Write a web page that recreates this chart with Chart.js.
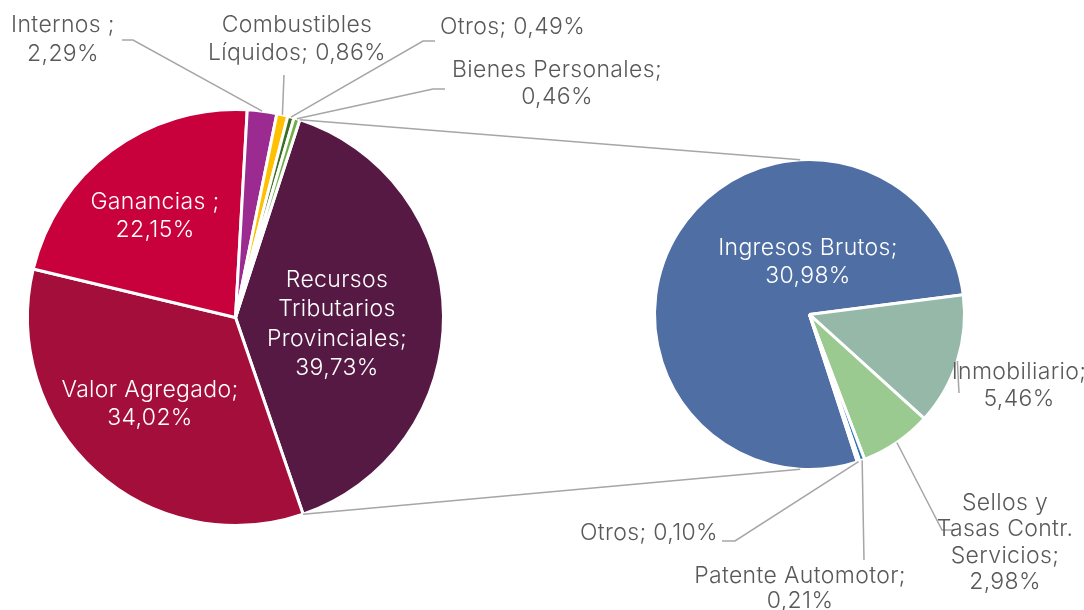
<!DOCTYPE html>
<html lang="es">
<head>
<meta charset="utf-8">
<title>Recursos tributarios</title>
<script src="https://cdn.jsdelivr.net/npm/chart.js@4.4.1/dist/chart.umd.min.js"></script>
<style>
    html, body { margin: 0; padding: 0; background: #ffffff; }
    .stage { position: relative; width: 1084px; height: 610px; }
    .stage canvas { position: absolute; left: 0; top: 0; }
</style>
</head>
<body>
<div class="stage">
    <canvas id="mainPie" width="1084" height="610"></canvas>
    <canvas id="detailPie" width="1084" height="610"></canvas>
</div>
<script>
// main pie, drawn clockwise starting with the slice that is broken out
const mainLabels = ["Recursos Tributarios Provinciales", "Valor Agregado", "Ganancias", "Internos", "Combustibles Líquidos", "Otros", "Bienes Personales"];
const mainValues = [39.73, 34.02, 22.15, 2.29, 0.86, 0.49, 0.46];
const mainColors = ["#561943", "#A30E3B", "#C8003B", "#9B2A91", "#FFC000", "#3B6E22", "#70AD47"];

// secondary pie: breakdown of Recursos Tributarios Provinciales
const detailLabels = ["Ingresos Brutos", "Inmobiliario", "Sellos y Tasas Contr. Servicios", "Patente Automotor", "Otros"];
const detailValues = [30.98, 5.46, 2.98, 0.21, 0.10];
const detailColors = ["#4F6EA4", "#96B8A9", "#9ACA8F", "#2E75B6", "#1F4E79"];

const TEXT_DARK = "#595959";
const LEADER = "#A6A6A6";
const FONT = "300 23px Inter, 'Noto Sans', sans-serif";

const fmt = (v) => v.toFixed(2).replace(".", ",") + "%";

// label text and placement ({v} is replaced by the slice value)
const mainLabelLayout = [
    { lines: ["Recursos", "Tributarios", "Provinciales;", "{v}"], x: 337, y: 280, color: "#fff", lh: 29.3 },
    { lines: ["Valor Agregado;", "{v}"], x: 150, y: 390, color: "#fff" },
    { lines: ["Ganancias ;", "{v}"], x: 155, y: 202, color: "#fff" },
    { lines: ["Internos ;", "{v}"], x: 63, y: 25, lh: 29, path: [[133, 40], [122, 40]] },
    { lines: ["Combustibles", "Líquidos; {v}"], x: 297, y: 25, path: [[284, 75]] },
    { lines: ["Otros; {v}"], x: 440, y: 27, align: "left", path: [[423, 41], [435, 41]] },
    { lines: ["Bienes Personales;", "{v}"], x: 557, y: 70, lh: 27, path: [[433, 89], [445, 89]] },
];

const detailLabelLayout = [
    { lines: ["Ingresos Brutos;", "{v}"], x: 808, y: 248, color: "#fff" },
    { lines: ["Inmobiliario;", "{v}"], x: 1019, y: 372, lh: 27, path: [[959, 393]] },
    { lines: ["Sellos y", "Tasas Contr.", "Servicios;", "{v}"], x: 1005, y: 503, lh: 26.4, path: [[942, 530], [955, 530]] },
    { lines: ["Patente Automotor;", "{v}"], x: 800, y: 576, lh: 25, path: [[864, 560]] },
    { lines: ["Otros; {v}"], x: 718, y: 533, align: "right", path: [[735, 541], [722, 541]] },
];

function makeLabelPlugin(layout) {
    return {
        id: "sliceLabels",
        afterDatasetsDraw(chart) {
            const ctx = chart.ctx;
            const arcs = chart.getDatasetMeta(0).data;
            const values = chart.data.datasets[0].data;

            ctx.save();
            layout.forEach((item, i) => {
                const arc = arcs[i];
                if (item.path) {
                    const mid = (arc.startAngle + arc.endAngle) / 2;
                    ctx.beginPath();
                    ctx.strokeStyle = LEADER;
                    ctx.lineWidth = 1.5;
                    ctx.moveTo(arc.x + Math.cos(mid) * arc.outerRadius, arc.y + Math.sin(mid) * arc.outerRadius);
                    item.path.forEach(([px, py]) => ctx.lineTo(px, py));
                    ctx.stroke();
                }

                ctx.font = FONT;
                ctx.letterSpacing = "0.35px";
                ctx.fillStyle = item.color || TEXT_DARK;
                ctx.textAlign = item.align || "center";
                ctx.textBaseline = "middle";
                const lh = item.lh || 28;
                item.lines.forEach((line, n) => {
                    ctx.fillText(line.replace("{v}", fmt(values[i])), item.x, item.y + n * lh);
                });
            });
            ctx.restore();
        },
    };
}

function pieOptions(rotation, padding) {
    return {
        responsive: false,
        animation: false,
        rotation: rotation,
        layout: { padding: padding },
        events: [],
        plugins: {
            legend: { display: false },
            tooltip: { enabled: false },
        },
    };
}

function initMainPie() {
    return new Chart(document.getElementById("mainPie"), {
        type: "pie",
        data: {
            labels: mainLabels,
            datasets: [
                {
                    data: mainValues,
                    backgroundColor: mainColors,
                    borderColor: "#ffffff",
                    borderWidth: 3,
                    hoverOffset: 0,
                },
            ],
        },
        options: pieOptions(18, { left: 26, right: 639, top: 108, bottom: 83 }),
        plugins: [makeLabelPlugin(mainLabelLayout)],
    });
}

function initDetailPie(mainChart) {
    // grey lines joining the broken-out slice to the secondary pie
    const connectorPlugin = {
        id: "connectors",
        afterDatasetsDraw(chart) {
            const ctx = chart.ctx;
            const source = mainChart.getDatasetMeta(0).data[0];
            const target = chart.getDatasetMeta(0).data[0];
            const ends = [
                [source.startAngle, -Math.PI / 2 - 0.06],
                [source.endAngle, Math.PI / 2 + 0.06],
            ];

            ctx.save();
            ctx.strokeStyle = LEADER;
            ctx.lineWidth = 1.5;
            ends.forEach(([a, b]) => {
                ctx.beginPath();
                ctx.moveTo(source.x + Math.cos(a) * source.outerRadius, source.y + Math.sin(a) * source.outerRadius);
                ctx.lineTo(target.x + Math.cos(b) * target.outerRadius, target.y + Math.sin(b) * target.outerRadius);
                ctx.stroke();
            });
            ctx.restore();
        },
    };

    return new Chart(document.getElementById("detailPie"), {
        type: "pie",
        data: {
            labels: detailLabels,
            datasets: [
                {
                    data: detailValues,
                    backgroundColor: detailColors,
                    borderColor: "#ffffff",
                    borderWidth: 3,
                    hoverOffset: 0,
                },
            ],
        },
        options: pieOptions(162, { left: 653, right: 118, top: 158, bottom: 139 }),
        plugins: [connectorPlugin, makeLabelPlugin(detailLabelLayout)],
    });
}

document.addEventListener("DOMContentLoaded", () => {
    const mainChart = initMainPie();
    initDetailPie(mainChart);
});
</script>
</body>
</html>
